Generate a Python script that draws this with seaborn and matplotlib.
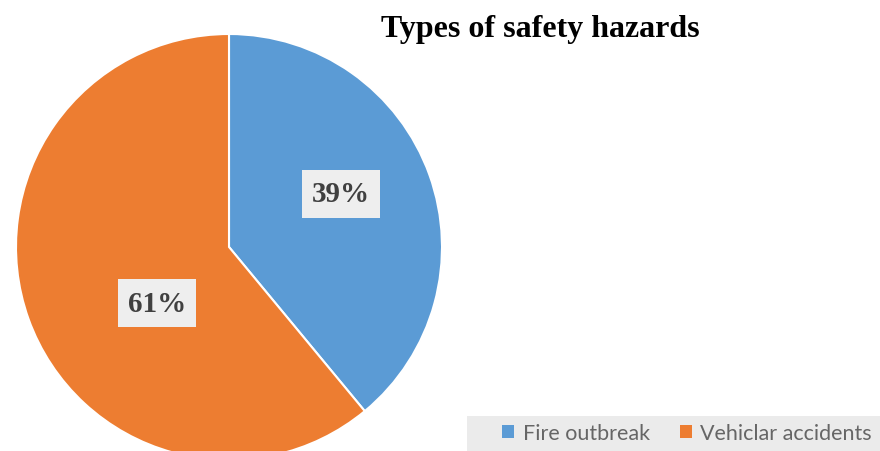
import matplotlib
matplotlib.use("Agg")
import matplotlib.pyplot as plt
from matplotlib.patches import Patch, Rectangle
import seaborn as sns

# Chart data
categories = ["Fire outbreak", "Vehiclar accidents"]
shares = [39, 61]
slice_colors = ["#5b9bd5", "#ed7d31"]
title = "Types of safety hazards"

sns.set_theme(style="white")
palette = sns.color_palette(slice_colors)
plt.rcParams["font.family"] = ["Liberation Serif", "DejaVu Serif"]

W, H = 880, 452
fig = plt.figure(figsize=(W / 100, H / 100), dpi=100)
fig.patch.set_facecolor("white")
ax = fig.add_axes([0, 0, 1, 1])

# Pie in pixel-like coordinates (y up), partly cut off at the bottom edge
cx, cy, r = 229, H - 248, 213
wedges, _ = ax.pie(
    shares,
    colors=palette,
    startangle=90,
    counterclock=False,
    center=(cx, cy),
    radius=r,
    wedgeprops=dict(edgecolor="white", linewidth=1.5),
)
ax.set_xlim(0, W)
ax.set_ylim(0, H)
ax.set_aspect("auto")
ax.axis("off")

# Percentage labels in light boxes
label_pos = [(341, H - 195), (157, H - 304)]
for (x, y), v in zip(label_pos, shares):
    ax.text(
        x, y, f"{v}%",
        ha="center", va="center",
        fontsize=21, fontweight="bold", color="#404040",
        bbox=dict(boxstyle="square,pad=0.35", facecolor="#eeeeee", edgecolor="none"),
    )

ax.text(540, H - 30, title, ha="center", va="center",
        fontsize=23, fontweight="bold", color="black")

# Legend strip along the bottom right
ax.add_patch(Rectangle((467, 0), W - 467, H - 417, facecolor="#ebebeb",
                       edgecolor="none", zorder=3))
handles = [Patch(facecolor=c, edgecolor="none") for c in palette]
leg = fig.legend(
    handles, categories,
    loc="center", bbox_to_anchor=(687 / W, (H - 434) / H), ncol=2,
    frameon=False, borderaxespad=0,
    handlelength=0.55, handleheight=0.55, handletextpad=0.4,
    columnspacing=1.4, borderpad=0.2,
    prop=dict(family=["Lato", "DejaVu Sans"], size=15.5),
)
for t in leg.get_texts():
    t.set_color("#666666")

fig.savefig("out.png", dpi=100)
